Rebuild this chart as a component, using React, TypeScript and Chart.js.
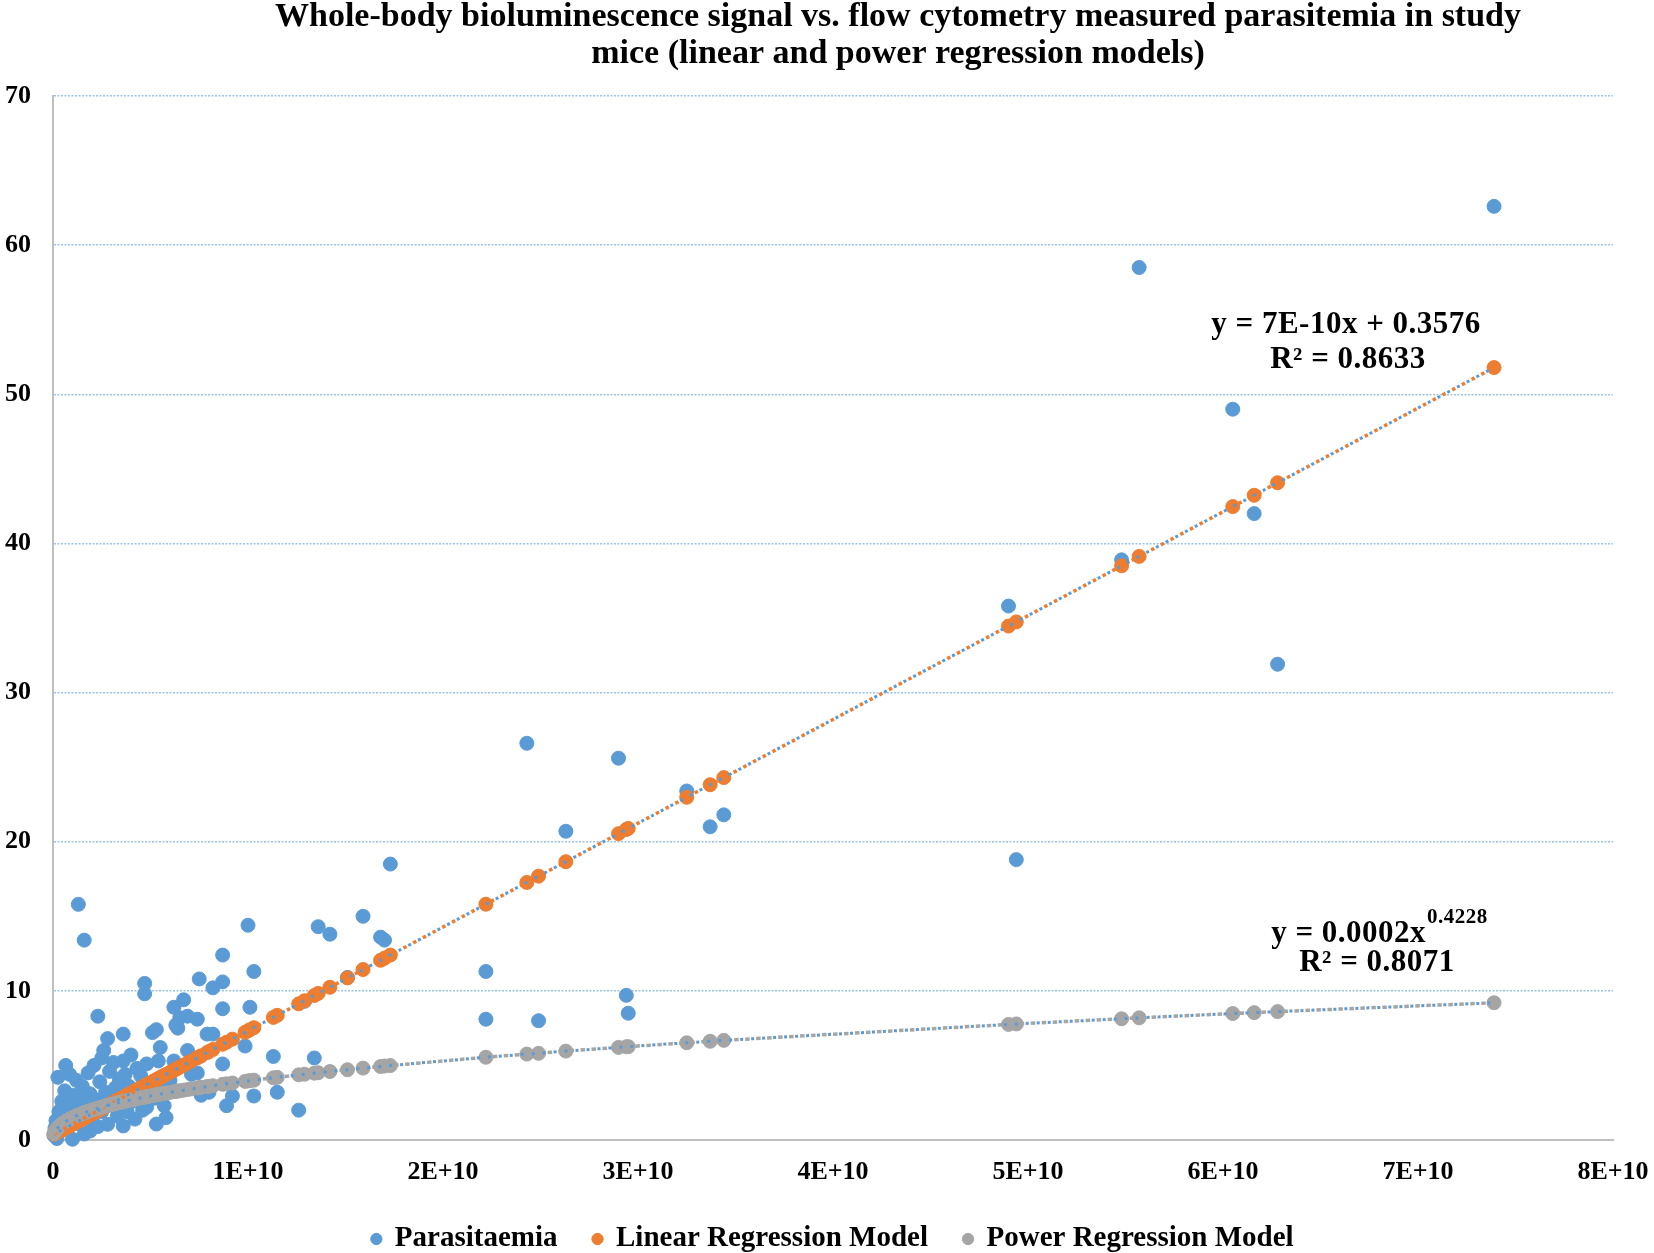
import React, { useEffect, useRef } from 'react';
import { Chart, registerables } from 'chart.js';

Chart.register(...registerables);

const FONT = '"Liberation Serif", "Times New Roman", serif';

const titleLines = [
  'Whole-body bioluminescence signal vs. flow cytometry measured parasitemia in study',
  'mice (linear and power regression models)',
];
const seriesNames = ['Parasitaemia', 'Linear Regression Model', 'Power Regression Model'];
const xTickLabels = ['0', '1E+10', '2E+10', '3E+10', '4E+10', '5E+10', '6E+10', '7E+10', '8E+10'];
const yTickLabels = ['0', '10', '20', '30', '40', '50', '60', '70'];
const linearEquation = ['y = 7E-10x + 0.3576', 'R\u00B2 = 0.8633'];
const powerEquation = ['y = 0.0002x', '0.4228', 'R\u00B2 = 0.8071'];

// Parasitaemia (flow cytometry) vs whole-body bioluminescence
const parasitaemiaX = [
  0.005e10, 0.01e10, 0.015e10, 0.02e10, 0.025e10, 0.03e10, 0.04e10, 0.045e10, 0.05e10, 0.06e10,
  0.065e10, 0.07e10, 0.08e10, 0.085e10, 0.09e10, 0.1e10, 0.1e10, 0.11e10, 0.12e10, 0.12e10,
  0.13e10, 0.13e10, 0.14e10, 0.15e10, 0.16e10, 0.16e10, 0.17e10, 0.18e10, 0.19e10, 0.19e10,
  0.2e10, 0.21e10, 0.22e10, 0.23e10, 0.23e10, 0.24e10, 0.25e10, 0.25e10, 0.26e10, 0.27e10,
  0.28e10, 0.28e10, 0.29e10, 0.3e10, 0.31e10, 0.32e10, 0.33e10, 0.34e10, 0.35e10, 0.36e10,
  0.36e10, 0.36e10, 0.37e10, 0.38e10, 0.39e10, 0.4e10, 0.41e10, 0.42e10, 0.43e10, 0.44e10,
  0.45e10, 0.46e10, 0.47e10, 0.47e10, 0.48e10, 0.48e10, 0.49e10, 0.51e10, 0.52e10, 0.53e10,
  0.53e10, 0.54e10, 0.55e10, 0.56e10, 0.57e10, 0.58e10, 0.6e10, 0.62e10, 0.62e10, 0.63e10,
  0.64e10, 0.65e10, 0.67e10, 0.69e10, 0.69e10, 0.71e10, 0.74e10, 0.74e10, 0.75e10, 0.76e10,
  0.79e10, 0.8e10, 0.82e10, 0.82e10, 0.87e10, 0.87e10, 0.87e10, 0.87e10, 0.89e10, 0.92e10,
  0.985e10, 1.0e10, 1.01e10, 1.03e10, 1.03e10, 1.13e10, 1.15e10, 1.26e10, 1.29e10, 1.34e10,
  1.36e10, 1.42e10, 1.51e10, 1.59e10, 1.68e10, 1.7e10, 1.73e10, 2.22e10, 2.22e10, 2.43e10,
  2.49e10, 2.63e10, 2.9e10, 2.94e10, 2.95e10, 3.25e10, 3.37e10, 3.44e10, 4.9e10, 4.94e10,
  5.48e10, 5.57e10, 6.05e10, 6.16e10, 6.28e10, 7.39e10,
];
const parasitaemiaY = [
  0.3, 0.8, 1.3, 0.1, 4.2, 1.9, 0.6, 2.6, 1.4, 3.3,
  5.0, 0.9, 2.1, 4.4, 1.6, 0.05, 3.0, 2.5, 1.1, 4.0,
  15.8, 2.9, 1.8, 3.6, 13.4, 0.4, 2.3, 4.5, 0.6, 3.1,
  1.5, 5.0, 2.7, 8.3, 0.9, 3.9, 5.5, 1.9, 6.0, 3.2,
  6.8, 1.05, 4.6, 2.4, 5.2, 3.5, 1.6, 4.1, 2.9, 7.1,
  0.94, 5.3, 4.4, 1.9, 3.6, 5.7, 2.6, 1.4, 4.8, 3.2,
  4.3, 2.0, 10.5, 9.8, 5.1, 2.2, 3.7, 7.2, 2.8, 7.4,
  1.07, 5.3, 6.2, 3.4, 2.3, 1.5, 4.0, 8.9, 5.3, 7.7,
  7.5, 8.2, 9.4, 6.0, 8.3, 4.4, 4.5, 8.1, 10.8, 3.0,
  7.1, 3.2, 10.2, 7.1, 10.6, 12.4, 8.8, 5.1, 2.3, 2.95,
  6.3, 14.4, 8.9, 11.3, 2.95, 5.6, 3.2, 2.0, 9.3, 5.5,
  14.3, 13.8, 10.9, 15.0, 13.6, 13.4, 18.5, 11.3, 8.1, 26.6,
  8.0, 20.7, 25.6, 9.7, 8.5, 23.4, 21.0, 21.8, 35.8, 18.8,
  38.9, 58.5, 49.0, 42.0, 31.9, 62.6,
];

// Model points (one per distinct bioluminescence value)
const modelX = [
  0.005e10, 0.01e10, 0.015e10, 0.02e10, 0.025e10, 0.03e10, 0.04e10, 0.045e10, 0.05e10, 0.06e10,
  0.065e10, 0.07e10, 0.08e10, 0.085e10, 0.09e10, 0.1e10, 0.11e10, 0.12e10, 0.13e10, 0.14e10,
  0.15e10, 0.16e10, 0.17e10, 0.18e10, 0.19e10, 0.2e10, 0.21e10, 0.22e10, 0.23e10, 0.24e10,
  0.25e10, 0.26e10, 0.27e10, 0.28e10, 0.29e10, 0.3e10, 0.31e10, 0.32e10, 0.33e10, 0.34e10,
  0.35e10, 0.36e10, 0.37e10, 0.38e10, 0.39e10, 0.4e10, 0.41e10, 0.42e10, 0.43e10, 0.44e10,
  0.45e10, 0.46e10, 0.47e10, 0.48e10, 0.49e10, 0.51e10, 0.52e10, 0.53e10, 0.54e10, 0.55e10,
  0.56e10, 0.57e10, 0.58e10, 0.6e10, 0.62e10, 0.63e10, 0.64e10, 0.65e10, 0.67e10, 0.69e10,
  0.71e10, 0.74e10, 0.75e10, 0.76e10, 0.79e10, 0.8e10, 0.82e10, 0.87e10, 0.89e10, 0.92e10,
  0.985e10, 1.0e10, 1.01e10, 1.03e10, 1.13e10, 1.15e10, 1.26e10, 1.29e10, 1.34e10, 1.36e10,
  1.42e10, 1.51e10, 1.59e10, 1.68e10, 1.7e10, 1.73e10, 2.22e10, 2.43e10, 2.49e10, 2.63e10,
  2.9e10, 2.94e10, 2.95e10, 3.25e10, 3.37e10, 3.44e10, 4.9e10, 4.94e10, 5.48e10, 5.57e10,
  6.05e10, 6.16e10, 6.28e10, 7.39e10,
];
const linearY = [
  0.39, 0.43, 0.46, 0.5, 0.53, 0.57, 0.64, 0.67, 0.71, 0.78,
  0.81, 0.85, 0.92, 0.95, 0.99, 1.06, 1.13, 1.2, 1.26, 1.33,
  1.4, 1.47, 1.54, 1.61, 1.68, 1.75, 1.82, 1.89, 1.96, 2.03,
  2.1, 2.17, 2.24, 2.31, 2.38, 2.45, 2.52, 2.59, 2.66, 2.73,
  2.8, 2.87, 2.94, 3.0, 3.07, 3.14, 3.21, 3.28, 3.35, 3.42,
  3.49, 3.56, 3.63, 3.7, 3.77, 3.91, 3.98, 4.05, 4.12, 4.19,
  4.26, 4.33, 4.4, 4.54, 4.68, 4.74, 4.81, 4.88, 5.02, 5.16,
  5.3, 5.51, 5.58, 5.65, 5.86, 5.93, 6.07, 6.42, 6.55, 6.76,
  7.22, 7.32, 7.39, 7.53, 8.22, 8.36, 9.13, 9.34, 9.69, 9.83,
  10.24, 10.87, 11.43, 12.05, 12.19, 12.4, 15.81, 17.27, 17.69, 18.66,
  20.54, 20.82, 20.89, 22.98, 23.82, 24.3, 34.46, 34.74, 38.5, 39.13,
  42.47, 43.23, 44.07, 51.79,
];
const powerY = [
  0.42, 0.57, 0.67, 0.76, 0.83, 0.9, 1.02, 1.07, 1.12, 1.21,
  1.25, 1.29, 1.36, 1.4, 1.43, 1.5, 1.56, 1.62, 1.67, 1.72,
  1.78, 1.82, 1.87, 1.92, 1.96, 2.01, 2.05, 2.09, 2.13, 2.17,
  2.2, 2.24, 2.28, 2.31, 2.35, 2.38, 2.41, 2.45, 2.48, 2.51,
  2.54, 2.57, 2.6, 2.63, 2.66, 2.69, 2.72, 2.74, 2.77, 2.8,
  2.83, 2.85, 2.88, 2.9, 2.93, 2.98, 3.0, 3.03, 3.05, 3.08,
  3.1, 3.12, 3.15, 3.19, 3.24, 3.26, 3.28, 3.3, 3.34, 3.38,
  3.43, 3.49, 3.51, 3.53, 3.58, 3.6, 3.64, 3.73, 3.77, 3.82,
  3.93, 3.96, 3.98, 4.01, 4.17, 4.2, 4.37, 4.41, 4.48, 4.51,
  4.59, 4.71, 4.82, 4.93, 4.96, 4.99, 5.55, 5.76, 5.81, 5.96,
  6.21, 6.25, 6.26, 6.52, 6.62, 6.68, 7.75, 7.78, 8.13, 8.19,
  8.48, 8.54, 8.61, 9.2,
];

const BLUE = '#5B9BD5';
const ORANGE = '#ED7D31';
const GRAY = '#A5A5A5';

const textPlugin = {
  id: 'titleAndEquations',
  afterDraw(chart: any) {
    const ctx: CanvasRenderingContext2D = chart.ctx;
    ctx.save();
    ctx.fillStyle = '#000';
    ctx.textBaseline = 'middle';
    ctx.textAlign = 'center';
    ctx.font = `bold 34px ${FONT}`;
    ctx.fillText(titleLines[0], 898, 17);
    ctx.fillText(titleLines[1], 898, 54);

    (ctx as any).letterSpacing = '0.5px';
    ctx.font = `bold 31px ${FONT}`;
    ctx.fillText(linearEquation[0], 1346, 325);
    ctx.fillText(linearEquation[1], 1348, 360);

    ctx.textAlign = 'left';
    ctx.font = `bold 31px ${FONT}`;
    const wb = ctx.measureText(powerEquation[0]).width;
    ctx.font = `bold 21px ${FONT}`;
    const ws = ctx.measureText(powerEquation[1]).width;
    const start = 1379 - (wb + ws) / 2;
    ctx.font = `bold 31px ${FONT}`;
    ctx.fillText(powerEquation[0], start, 934);
    ctx.font = `bold 21px ${FONT}`;
    ctx.fillText(powerEquation[1], start + wb + 1, 918);
    ctx.textAlign = 'center';
    ctx.font = `bold 31px ${FONT}`;
    ctx.fillText(powerEquation[2], 1377, 963);
    ctx.restore();
  },
};

export default function App() {
  const canvasRef = useRef<HTMLCanvasElement | null>(null);

  useEffect(() => {
    document.body.style.margin = '0';
    const canvas = canvasRef.current;
    if (!canvas) return;

    const pts = (xs: number[], ys: number[]) => xs.map((x, i) => ({ x, y: ys[i] }));
    const markerStyle = (color: string) => ({
      backgroundColor: color,
      borderColor: color,
      borderWidth: 1,
      pointRadius: 7,
      pointHoverRadius: 7,
      pointStyle: 'circle',
      showLine: false,
      clip: false as any,
    });
    const trendStyle = (color: string, width: number, dash: number[], offset: number) => ({
      borderColor: color,
      backgroundColor: color,
      borderWidth: width,
      borderDash: dash,
      borderDashOffset: offset,
      showLine: true,
      pointRadius: 0,
      pointHoverRadius: 0,
      fill: false,
      tension: 0,
    });

    const chart = new Chart(canvas, {
      type: 'scatter',
      data: {
        datasets: [
          { label: seriesNames[0], data: pts(parasitaemiaX, parasitaemiaY), order: 6, ...markerStyle(BLUE) },
          { label: seriesNames[1], data: pts(modelX, linearY), order: 5, ...markerStyle(ORANGE) },
          { label: seriesNames[2], data: pts(modelX, powerY), order: 4, ...markerStyle(GRAY) },
          { label: 'linTrendA', data: pts(modelX, linearY), order: 3, ...trendStyle(ORANGE, 3.5, [3.5, 7.5], 0) },
          { label: 'linTrendB', data: pts(modelX, linearY), order: 2, ...trendStyle(BLUE, 3, [3, 8], -5.5) },
          { label: 'powTrendA', data: pts(modelX, powerY), order: 1, ...trendStyle(GRAY, 3.5, [4.5, 6.5], 0) },
          { label: 'powTrendB', data: pts(modelX, powerY), order: 0, ...trendStyle(BLUE, 3, [3, 8], -6) },
        ] as any,
      },
      options: {
        animation: false,
        responsive: false,
        devicePixelRatio: 1,
        events: [],
        layout: { padding: { top: 96, right: 41, bottom: -10.5, left: 0 } },
        plugins: {
          title: { display: false },
          tooltip: { enabled: false },
          legend: {
            display: true,
            position: 'bottom',
            fullSize: false,
            labels: {
              usePointStyle: true,
              pointStyle: 'circle',
              boxWidth: 8,
              boxHeight: 8,
              padding: 36,
              color: '#000',
              font: { family: FONT, size: 29, weight: 'bold' },
              filter: (item: any) => item.datasetIndex < 3,
              sort: (a: any, b: any) => a.datasetIndex - b.datasetIndex,
            },
          },
        },
        scales: {
          x: {
            type: 'linear',
            min: 0,
            max: 8e10,
            afterFit: (scale: any) => { scale.height = 48.5; },
            grid: { display: false, drawTicks: false },
            border: { display: true, color: '#BFBFBF', width: 2 },
            ticks: {
              stepSize: 1e10,
              autoSkip: false,
              maxRotation: 0,
              padding: 5,
              color: '#000',
              font: { family: FONT, size: 26, weight: 'bold', lineHeight: 2.1 },
              callback: (_v: any, i: number) => xTickLabels[i],
            },
          },
          y: {
            type: 'linear',
            min: 0,
            max: 70,
            afterFit: (scale: any) => { scale.width = 53; },
            grid: {
              drawTicks: false,
              color: (c: any) => (c.tick && c.tick.value === 0 ? 'rgba(0,0,0,0)' : '#9DC3E6'),
              lineWidth: 1.5,
            },
            border: { display: true, color: '#BFBFBF', width: 2, dash: [2, 1.5] },
            ticks: {
              stepSize: 10,
              padding: 22,
              color: '#000',
              font: { family: FONT, size: 26, weight: 'bold' },
              callback: (_v: any, i: number) => yTickLabels[i],
            },
          },
        },
      } as any,
      plugins: [textPlugin],
    });

    return () => chart.destroy();
  }, []);

  return (
    <div style={{ width: 1654, height: 1253 }}>
      <canvas ref={canvasRef} width={1654} height={1253} style={{ display: 'block', width: 1654, height: 1253 }} />
    </div>
  );
}
